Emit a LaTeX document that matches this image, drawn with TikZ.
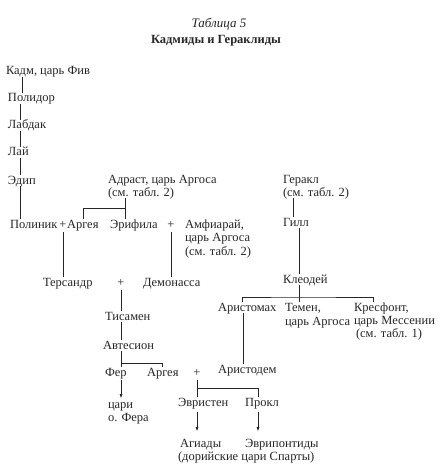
\documentclass[tikz,border=0pt]{standalone}
\usepackage{fontspec}
\setmainfont{Liberation Serif}
\usetikzlibrary{arrows.meta}
\definecolor{ink}{HTML}{262626}
\tikzset{
  t/.style={anchor=base west, inner sep=0pt, outer sep=0pt, text height=9pt, text depth=2pt, text=ink, font=\fontsize{12.5}{13}\selectfont},
  plus/.style={anchor=base, inner sep=0pt, outer sep=0pt, text height=9pt, text depth=4pt, text=ink, font=\fontsize{12.5}{13}\selectfont},
  ln/.style={draw=ink, line width=1pt},
  arr/.style={ln, -{Latex[length=5pt,width=3pt]}}
}
\begin{document}
\begin{tikzpicture}[x=1pt,y=-1pt]
\useasboundingbox[fill=white] (0,0) rectangle (440,473);
% title
\node[anchor=base, inner sep=0pt, text=ink, font=\fontsize{13}{13}\selectfont\itshape] (tab) at (219,28) {Таблица 5};
\node[anchor=base, inner sep=0pt, text=ink, font=\fontsize{12.5}{13}\selectfont\bfseries] (ttl) at (216,44) {Кадмиды и Гераклиды};
% columns
\coordinate (c20) at (20,0);
\coordinate (c22) at (22,0);
\coordinate (c83) at (83,0);
\coordinate (c121) at (121,0);
\coordinate (c125) at (125,0);
\coordinate (c162) at (162,0);
\coordinate (c242) at (242,0);
\coordinate (c243) at (243,0);
\coordinate (c258) at (258,0);
\coordinate (c293) at (293,0);
\coordinate (c299) at (299,0);
\coordinate (c373) at (373,0);
\coordinate (c197) at (197,0);
% left line
\node[t] (kadm) at (6,75) {Кадм, царь Фив};
\node[t] (polidor) at (8,102) {Полидор};
\node[t] (labdak) at (8,129) {Лабдак};
\node[t] (lai) at (8,156) {Лай};
\node[t] (edip) at (8,184) {Эдип};
\node[t] (adrast1) at (108,183) {Адраст, царь Аргоса};
\node[t] (adrast2) at (108,196) {(см. табл. 2)};
\node[t] (polinik) at (10,228) {Полиник};
\node[plus] (plus1) at (63,228) {+};
\node[t] (argeia1) at (67,228) {Аргея};
\node[t] (erifila) at (110,228) {Эрифила};
\node[plus] (plus2) at (171,228) {+};
\node[t] (amf1) at (185,228) {Амфиарай,};
\node[t] (amf2) at (185,241.5) {царь Аргоса};
\node[t] (amf3) at (185,255) {(см. табл. 2)};
\node[t] (tersandr) at (43,286) {Терсандр};
\node[plus] (plus3) at (121,286) {+};
\node[t] (demonassa) at (143,286) {Демонасса};
\node[t] (tisamen) at (105,320) {Тисамен};
\node[t] (avtesion) at (103,349) {Автесион};
\node[t] (fer) at (105,376) {Фер};
\node[t] (argeia2) at (147,376) {Аргея};
\node[plus] (plus4) at (197,376) {+};
\node[t] (tsari1) at (108,408) {цари};
\node[t] (tsari2) at (108,421) {о. Фера};
% right line
\node[t] (gerakl1) at (283,183) {Геракл};
\node[t] (gerakl2) at (283,196) {(см. табл. 2)};
\node[t] (gill) at (283,226) {Гилл};
\node[t] (kleodei) at (283,283) {Клеодей};
\node[t] (aristomah) at (218,311) {Аристомах};
\node[t] (temen1) at (285,311) {Темен,};
\node[t] (temen2) at (285,325) {царь Аргоса};
\node[t] (kresfont1) at (354,311) {Кресфонт,};
\node[t] (kresfont2) at (354,324.5) {царь Мессении};
\node[t] (kresfont3) at (356,337) {(см. табл. 1)};
\node[t] (aristodem) at (218,373) {Аристодем};
\node[t] (evristen) at (178,406) {Эвристен};
\node[t] (prokl) at (245,406) {Прокл};
\node[t] (agiady) at (180,447) {Агиады};
\node[t] (evripontidy) at (245,447) {Эврипонтиды};
\node[t] (dorian) at (178,460) {(дорийские цари Спарты)};
% junctions
\coordinate (jA) at (125,208);
\coordinate (jB) at (121,363);
\coordinate (jC) at (299,297);
\coordinate (jD) at (197,388);
% connectors
\draw[ln] (kadm.south -| c22) -- (polidor.north -| c22);
\draw[ln] (polidor.south -| c20) -- (labdak.north -| c20);
\draw[ln] (labdak.south -| c20) -- (lai.north -| c20);
\draw[ln] (lai.south -| c20) -- (edip.north -| c20);
\draw[ln] (edip.south -| c20) -- (polinik.north -| c20);
\draw[ln] (adrast2.south -| c125) -- (erifila.north -| c125);
\draw[ln] (argeia1.north -| c83) |- (jA);
\draw[ln] (plus1.south) -- (tersandr.north -| plus1);
\draw[ln] (plus2.south) -- (demonassa.north -| plus2);
\draw[ln] (plus3.south) -- (tisamen.north -| plus3);
\draw[ln] (tisamen.south -| c121) -- (avtesion.north -| c121);
\draw[ln] (avtesion.south -| c121) -- (fer.north -| c121);
\draw[ln] (jB) -| (argeia2.north -| c162);
\draw[arr, shorten <=2pt] (fer.south -| c121) -- (tsari1.north -| c121);
\draw[ln] (gerakl2.south -| c293) -- (gill.north -| c293);
\draw[ln] (gill.south -| c299) -- (kleodei.north -| c299);
\draw[ln] (kleodei.south -| c299) -- (temen1.north -| c299);
\draw[ln] (aristomah.north -| c242) |- (jC) -| (kresfont1.north -| c373);
\draw[ln] (aristomah.south -| c243) -- (aristodem.north -| c243);
\draw[ln] (plus4.south) -- (evristen.north -| plus4);
\draw[ln] (jD) -| (prokl.north -| c258);
\draw[arr, shorten <=4pt, shorten >=6pt] (evristen.south -| c197) -- (agiady.north -| c197);
\draw[arr, shorten <=4pt, shorten >=6pt] (prokl.south -| c258) -- (evripontidy.north -| c258);
\end{tikzpicture}
\end{document}
